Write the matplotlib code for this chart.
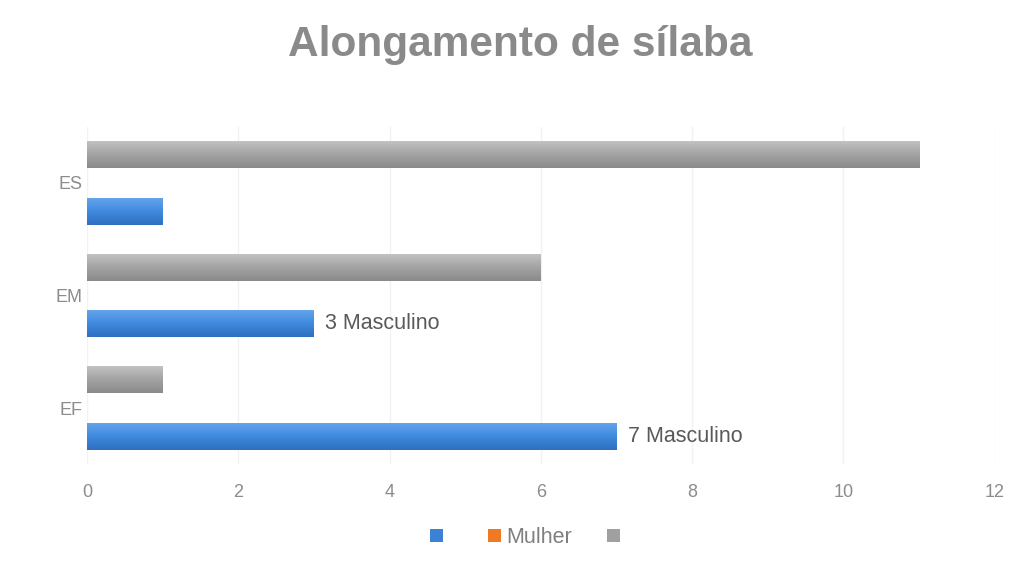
import numpy as np
import matplotlib.pyplot as plt
from matplotlib.colors import LinearSegmentedColormap

plt.rcParams['font.family'] = ['Liberation Sans', 'DejaVu Sans']

# data
categories = ['EF', 'EM', 'ES']
series_names = [' ', 'Mulher', ' ']
blue_vals = [7, 3, 1]
orange_vals = [0, 0, 0]
gray_vals = [1, 6, 11]
blue_labels = ['7 Masculino', '3 Masculino', '']

colors = ['#3b82d6', '#f07a24', '#a0a0a0']
grads = [
    LinearSegmentedColormap.from_list('b', ['#2f6fbf', '#3f8ae0', '#66a6ea']),
    LinearSegmentedColormap.from_list('o', ['#d9661a', '#f07a24', '#f7a060']),
    LinearSegmentedColormap.from_list('g', ['#8a8a8a', '#a3a3a3', '#c4c4c4']),
]

fig = plt.figure(figsize=(10.16, 5.63), dpi=100)
ax = fig.add_axes([0.0856, 0.175, 0.8934, 0.6])

y = np.arange(len(categories))
slot = 0.252
h = 0.24
all_vals = [blue_vals, orange_vals, gray_vals]
grad_img = np.linspace(0, 1, 64).reshape(-1, 1)
for k, vals in enumerate(all_vals):
    pos = y + (k - 1) * slot
    bars = ax.barh(pos, vals, height=h, color=colors[k], label=series_names[k], zorder=2)
    for b, v in zip(bars, vals):
        if v <= 0:
            continue
        x0, y0 = b.get_x(), b.get_y()
        im = ax.imshow(grad_img, cmap=grads[k], aspect='auto', zorder=3,
                       extent=[x0, x0 + b.get_width(), y0, y0 + b.get_height()],
                       origin='lower')
        im.set_clip_path(b)

for i, lab in enumerate(blue_labels):
    if lab:
        ax.text(blue_vals[i] + 0.15, y[i] - slot, lab, va='center', ha='left',
                fontsize=15.5, color='#595959')

ax.set_xlim(0, 12)
ax.set_ylim(-0.5, len(categories) - 0.5)
ax.set_xticks(np.arange(0, 13, 2))
ax.set_yticks(y)
ax.set_yticklabels(categories)
ax.tick_params(axis='both', length=0, labelsize=13, colors='#8c8c8c')
ax.tick_params(axis='x', pad=14)
ax.tick_params(axis='y', pad=3, labelsize=13)
ax.grid(axis='x', color='#f2f2f2', linewidth=1, zorder=0)
ax.set_axisbelow(True)
for s in ax.spines.values():
    s.set_visible(False)

fig.suptitle('Alongamento de sílaba', fontsize=30.5, fontweight='bold',
             color='#8a8a8a', x=0.512, y=0.955)

handles, labels = ax.get_legend_handles_labels()
fig.legend(handles, labels, loc='lower center', bbox_to_anchor=(0.522, -0.008), ncol=3,
           frameon=False, fontsize=15.5, labelcolor='#7f7f7f', handlelength=0.6,
           handleheight=0.6, columnspacing=1.6, handletextpad=0.25)

fig.savefig('out.png', dpi=100, facecolor='white')
